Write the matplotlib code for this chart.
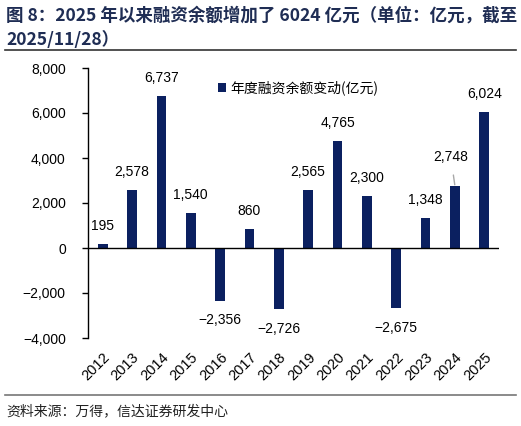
import numpy as np
import matplotlib
matplotlib.use("Agg")
import matplotlib.pyplot as plt
from matplotlib.lines import Line2D

plt.rcParams['font.family'] = ['Liberation Sans', 'Noto Sans CJK SC', 'DejaVu Sans']
plt.rcParams['axes.unicode_minus'] = False

# 数据
years = ['2012', '2013', '2014', '2015', '2016', '2017', '2018',
         '2019', '2020', '2021', '2022', '2023', '2024', '2025']
change = [195, 2578, 6737, 1540, -2356, 860, -2726,
          2565, 4765, 2300, -2675, 1348, 2748, 6024]
yticks = [-4000, -2000, 0, 2000, 4000, 6000, 8000]

navy = '#0b2060'
title_color = '#1f2d54'

fig = plt.figure(figsize=(5.21, 4.26), dpi=100)
ax = fig.add_axes([88/521, 1-338/426, 411/521, 270/426])

x = np.arange(len(years))
ax.bar(x, change, width=0.33, color=navy, label='年度融资余额变动(亿元)', zorder=2)
ax.axhline(0, color='black', lw=1, zorder=3)

for i, v in enumerate(change):
    txt = f'{v:,}'.replace('-', '−')
    if years[i] == '2024':
        ax.annotate(txt, xy=(i, v), xytext=(-3, 21), textcoords='offset points',
                    ha='center', va='center', fontsize=10,
                    arrowprops=dict(arrowstyle='-', color='#a8a8a8', lw=1,
                                    shrinkA=6, shrinkB=1))
    elif v >= 0:
        ax.annotate(txt, xy=(i, v), xytext=(0, 13), textcoords='offset points',
                    ha='center', va='center', fontsize=10)
    else:
        ax.annotate(txt, xy=(i, v), xytext=(0, -14), textcoords='offset points',
                    ha='center', va='center', fontsize=10)

ax.set_xlim(-0.5, len(years) - 0.5)
ax.set_ylim(-4000, 8000)
ax.set_yticks(yticks)
ax.set_yticklabels([f'{t:,}'.replace('-', '−') for t in yticks], fontsize=10)
ax.set_xticks(x)
ax.set_xticklabels(years, rotation=45, ha='right', rotation_mode='anchor', fontsize=10.5)
ax.tick_params(axis='x', length=0, pad=9)
ax.tick_params(axis='y', length=4, width=1, direction='out', pad=12)

for s in ['top', 'right', 'bottom']:
    ax.spines[s].set_visible(False)
ax.spines['left'].set_linewidth(1)

ax.legend(loc='upper left', bbox_to_anchor=(0.285, 1.0), frameon=False,
          fontsize=10, handlelength=0.6, handleheight=0.6, handletextpad=0.3,
          prop={'family': ['Noto Sans CJK SC'], 'size': 10})

# 标题
fig.text(6/521, 1-16/426, '图 8：2025 年以来融资余额增加了 6024 亿元（单位：亿元，截至',
         fontsize=12.6, fontweight='bold', color=title_color, va='center',
         family=['Noto Sans CJK SC'])
fig.text(6/521, 1-40/426, '2025/11/28）',
         fontsize=12.6, fontweight='bold', color=title_color, va='center',
         family=['Noto Sans CJK SC'])
fig.add_artist(Line2D([5/521, 516/521], [1-50/426, 1-50/426], color='#333333', lw=1.2))
fig.add_artist(Line2D([5/521, 516/521], [1-395/426, 1-395/426], color='#777777', lw=1.2))

fig.text(6/521, 1-411/426, '资料来源：万得，信达证券研发中心', fontsize=10,
         color='#222222', va='center', style='italic', family=['Noto Sans CJK SC'])

fig.savefig('out.png', dpi=100)
